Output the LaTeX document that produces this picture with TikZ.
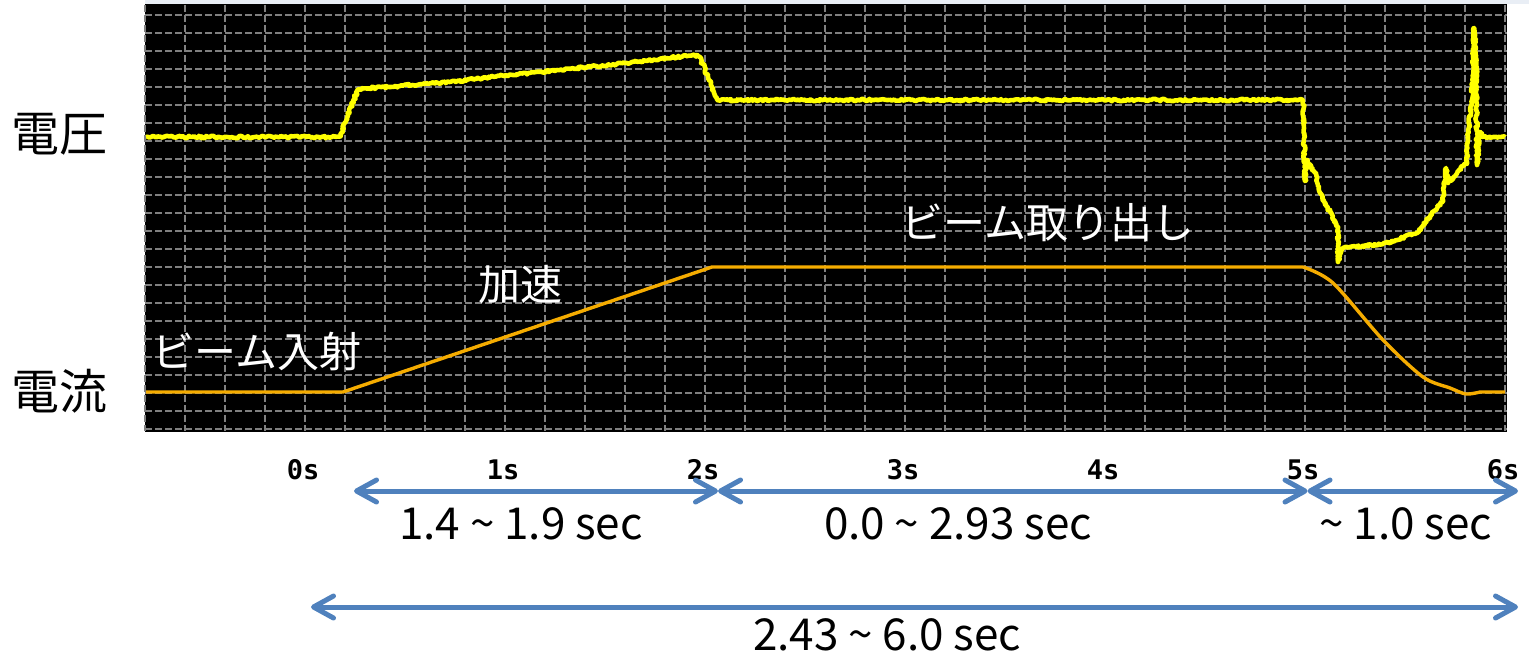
\documentclass[tikz,border=0pt]{standalone}
\usepackage{fontspec}
\setmainfont{Noto Sans CJK JP}
\newfontfamily\tickfont[BoldFont={DejaVu Sans Mono Bold}]{DejaVu Sans Mono}
\usetikzlibrary{arrows.meta,decorations.pathmorphing}
\definecolor{screenstrip}{RGB}{233,238,245}
\definecolor{gridgray}{RGB}{128,128,128}
\definecolor{traceyellow}{RGB}{255,255,0}
\definecolor{traceorange}{RGB}{245,172,0}
\definecolor{arrowblue}{RGB}{79,129,189}
\tikzset{
  grid/.style={gridgray, line width=0.65pt, dash pattern=on 3.3pt off 1.7pt},
  sidelabel/.style={inner sep=0pt, font=\fontsize{24}{24}\selectfont},
  phase/.style={inner sep=0pt, white, font=\fontsize{21}{21}\selectfont},
  tick/.style={inner sep=0pt, font=\tickfont\bfseries\fontsize{13.5}{13.5}\selectfont},
  dur/.style={inner sep=0pt, font=\fontsize{22}{22}\selectfont},
  span/.style={arrowblue, line width=2.5pt,
    {Straight Barb[length=10pt,width=11pt,round]}-{Straight Barb[length=10pt,width=11pt,round]}}
}
\begin{document}
\begin{tikzpicture}[x=0.5pt,y=-0.5pt]
\useasboundingbox (0,0) rectangle (1529,654);

\fill[screenstrip] (145,0) rectangle (1529,4);
\fill[black] (145,4) rectangle (1507,432);
\foreach \i in {0,...,34}
  \draw[grid] ({145+40*\i},5) -- ({145+40*\i},431);
\foreach \j in {0,...,23}
  \draw[grid] (145,{15+18*\j}) -- (1507,{15+18*\j});

% voltage trace
\pgfmathsetseed{7}
\draw[traceyellow, line width=2.3pt, line join=round,
  decorate, decoration={random steps, segment length=0.8pt, amplitude=0.6pt}]
  (146,137) -- (340,137) -- (348,115) -- (358,89) -- (400,86) -- (450,82)
  -- (500,76) -- (560,70) -- (627,63) -- (693,55) -- (700,57) -- (705,70)
  -- (712,87) -- (717,100) -- (1303,100) -- (1305,181) -- (1307,160)
  -- (1312,170) -- (1316,173) -- (1320,193) -- (1330,212) -- (1338,227)
  -- (1338,262) -- (1343,248) -- (1383,244) -- (1417,233) -- (1443,200)
  -- (1446,168) -- (1448,183) -- (1467,162) -- (1469,124) -- (1472,100)
  -- (1474,28) -- (1476,48) -- (1477,165) -- (1480,132) -- (1483,137)
  -- (1505,137);

% current trace
\draw[traceorange, line width=1.7pt, line join=round]
  (146,392) -- (343,392) -- (712,267) -- (1303,267)
  plot[smooth] coordinates {(1303,267) (1333,283) (1383,340) (1423,377)
  (1450,388) (1466,394) (1480,392)} -- (1505,392);

\node[sidelabel] (volt) at (59,134) {電圧};
\node[sidelabel] (curr) at (59,391) {電流};
\node[phase] (injlbl) at (257,352) {ビーム入射};
\node[phase] (acclbl) at (520,285) {加速};
\node[phase] (extlbl) at (1048,223) {ビーム取り出し};

\foreach \s in {0,...,6}
  \node[tick] (tick\s) at ({303+200*\s},470) {\s s};

\coordinate (inj) at (354,491);
\coordinate (acc) at (718,491);
\coordinate (ext) at (1307.5,491);
\coordinate (cyc) at (1518,491);
\coordinate (tot0) at (311,607);
\coordinate (tot1) at (1518,607);
\draw[span] (inj) -- (acc);
\draw[span] (acc) -- (ext);
\draw[span] (ext) -- (cyc);
\draw[span] (tot0) -- (tot1);

\node[dur] (accdur) at (521,524) {1.4 \textasciitilde{} 1.9 sec};
\node[dur] (extdur) at (958,524) {0.0 \textasciitilde{} 2.93 sec};
\node[dur] (falldur) at (1406,524) {\textasciitilde{} 1.0 sec};
\node[dur] (totdur) at (887,635) {2.43 \textasciitilde{} 6.0 sec};
\end{tikzpicture}
\end{document}
